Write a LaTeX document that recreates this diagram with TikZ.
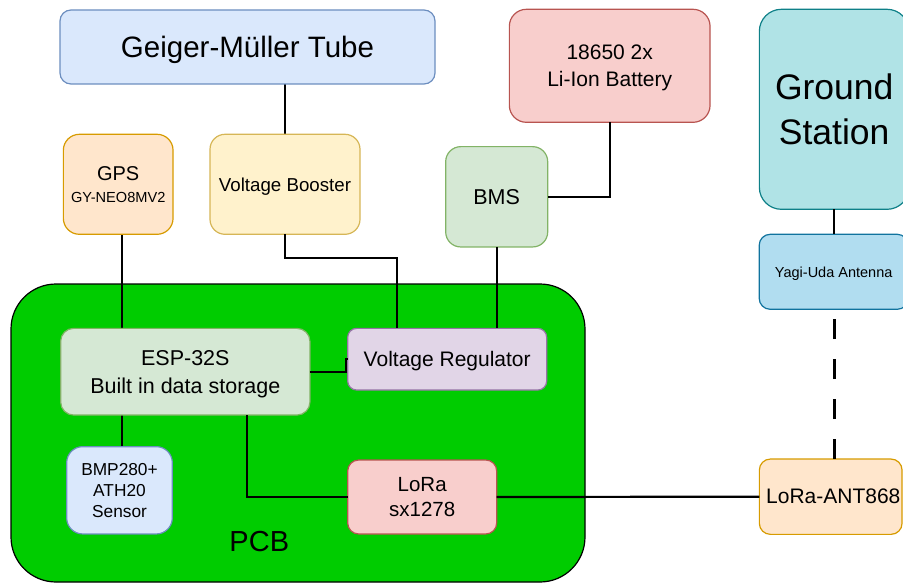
\documentclass[tikz,border=0pt]{standalone}
\usepackage{fontspec}
\setmainfont{Liberation Sans}
\definecolor{blueF}{HTML}{DAE8FC}\definecolor{blueD}{HTML}{6C8EBF}
\definecolor{orangeF}{HTML}{FFE6CC}\definecolor{orangeD}{HTML}{D79B00}
\definecolor{yellowF}{HTML}{FFF2CC}\definecolor{yellowD}{HTML}{D6B656}
\definecolor{redF}{HTML}{F8CECC}\definecolor{redD}{HTML}{B85450}
\definecolor{greenF}{HTML}{D5E8D4}\definecolor{greenD}{HTML}{82B366}
\definecolor{tealF}{HTML}{B0E3E6}\definecolor{tealD}{HTML}{0E8088}
\definecolor{skyF}{HTML}{B1DDF0}\definecolor{skyD}{HTML}{10739E}
\definecolor{purpleF}{HTML}{E1D5E7}\definecolor{purpleD}{HTML}{9673A6}
\definecolor{pcbF}{HTML}{00CC00}
\newcommand{\fs}[2]{\fontsize{#1}{#2}\selectfont}
\tikzset{
  box/.style={draw, rectangle, line width=1.2pt, inner sep=0pt, outer sep=0pt, align=center, text=black, text depth=0pt},
  wire/.style={line width=2.2pt},
  dwire/.style={line width=3.2pt, dash pattern=on 20pt off 20pt},
}
\begin{document}
\begin{tikzpicture}[x=1pt,y=-1pt]
\useasboundingbox (0,0) rectangle (903,583);
% PCB
\node[draw=black, fill=pcbF, line width=1.2pt, rounded corners=45pt, minimum width=574, minimum height=298, inner sep=0pt, outer sep=0pt] (pcb) at (298,433) {};
\node[font=\fs{29}{34}] (pcblabel) at (259.3,541.7) {PCB};
% helper coordinates
\coordinate (gx) at (122.3,0);
\coordinate (el) at (247,0);
\coordinate (breg) at (396.7,258.3);
% connectors
\draw[wire] (285,84) -- (285,134.3);
\draw[wire] (gx |- 0,234.3) -- (gx |- 0,328.3);
\draw[wire] (gx |- 0,415) -- (gx |- 0,446.7);
% boxes
\node[box, fill=blueF, draw=blueD, rounded corners=11pt, minimum width=375, minimum height=74, font=\fs{29.5}{35}] (geiger) at (247.5,47) {Geiger-Müller Tube};
\node[box, fill=orangeF, draw=orangeD, rounded corners=16pt, minimum width=109.7, minimum height=100, font=\fs{20}{21.7}] (gps) at (118.2,184.3) {GPS\\\fs{14.6}{17}GY-NEO8MV2};
\node[box, fill=yellowF, draw=yellowD, rounded corners=15pt, minimum width=150, minimum height=100, font=\fs{18.7}{22}] (booster) at (285,184.3) {Voltage Booster};
\node[box, fill=redF, draw=redD, rounded corners=17pt, minimum width=200.7, minimum height=113, font=\fs{21}{27}] (battery) at (609.7,65.8) {18650 2x\\Li-Ion Battery};
\node[box, fill=greenF, draw=greenD, rounded corners=15pt, minimum width=102, minimum height=100.3, font=\fs{21.5}{25}] (bms) at (496.7,196.8) {BMS};
\node[box, fill=tealF, draw=tealD, rounded corners=22pt, minimum width=149.7, minimum height=200, font=\fs{35.5}{45}] (ground) at (834.2,109.3) {Ground\\Station};
\node[box, fill=skyF, draw=skyD, rounded corners=11pt, minimum width=149, minimum height=75, font=\fs{14.5}{17}] (yagi) at (833.7,271.8) {Yagi-Uda Antenna};
\node[box, fill=orangeF, draw=orangeD, rounded corners=11pt, minimum width=142.7, minimum height=75.3] (ant) at (830.7,496.7) {};
\node[font=\fs{21}{25}] (antlabel) at (833.3,496.7) {LoRa-ANT868};
\node[box, fill=greenF, draw=greenD, rounded corners=13pt, minimum width=249.3, minimum height=86.7, font=\fs{21.5}{27.7}] (esp) at (185.3,371.7) {ESP-32S\\Built in data storage};
\node[box, fill=purpleF, draw=purpleD, rounded corners=9pt, minimum width=199, minimum height=61.7, font=\fs{21}{25}] (reg) at (447.2,359.2) {Voltage Regulator};
\node[box, fill=blueF, draw=blueD, rounded corners=16pt, minimum width=105.6, minimum height=87.3, font=\fs{17.3}{21}] (bmp) at (119.5,490.3) {BMP280+\\ATH20\\Sensor};
\node[box, fill=redF, draw=redD, rounded corners=11pt, minimum width=149, minimum height=74, font=\fs{20.5}{25}] (lora) at (422.2,497) {LoRa\\sx1278};
% connectors between named nodes
\draw[wire] (booster.south) |- (breg) -- (breg |- reg.north);
\draw[wire] (battery.south) |- (bms.east);
\draw[wire] (bms.south) -- (bms.south |- reg.north);
\draw[wire] (esp.east) -- ++(36,0) |- (reg.west);
\draw[wire] (el |- esp.south) |- (lora.west);
\draw[wire] (lora.east) -- (ant.west);
\draw[wire] (ground.south) -- (ground.south |- yagi.north);
\draw[dwire] (ant.north -| ground) -- (yagi.south -| ground);
\end{tikzpicture}
\end{document}
